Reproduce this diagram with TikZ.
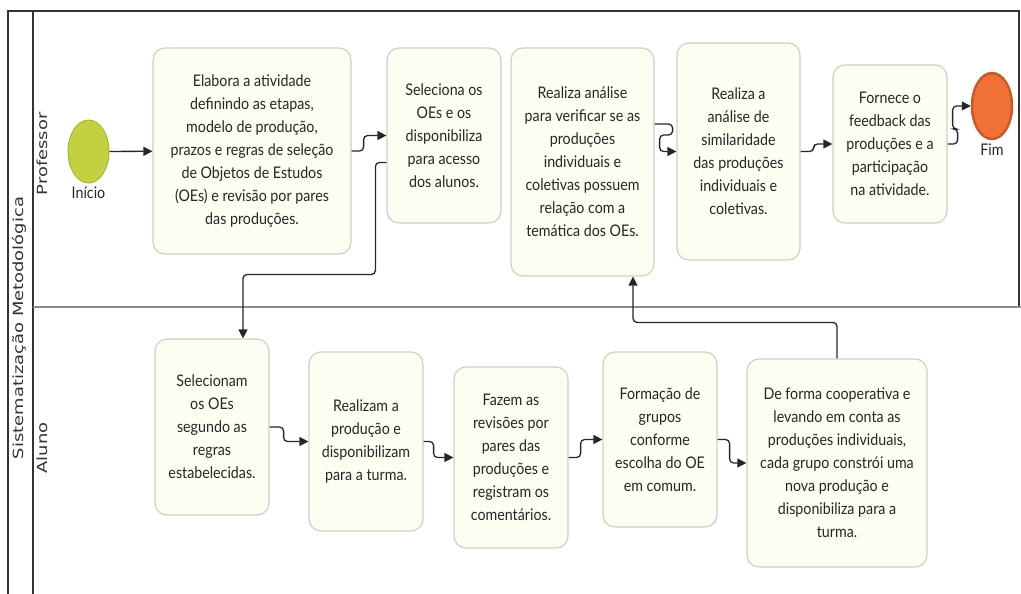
\documentclass[tikz,border=0pt]{standalone}
\usepackage{fontspec}
\usetikzlibrary{arrows.meta,shapes.geometric}
\newfontfamily\tarefafont{Lato}[FakeStretch=0.89]
\newfontfamily\raiafont{DejaVu Sans}[FakeStretch=1.28]
\definecolor{creme}{HTML}{FDFDF1}
\definecolor{bordacreme}{HTML}{CFCFC3}
\definecolor{verdeinicio}{HTML}{C3D140}
\definecolor{bordaverde}{HTML}{A8B83A}
\definecolor{laranjafim}{HTML}{F07236}
\definecolor{bordalaranja}{HTML}{C65A2A}
\begin{document}
\begin{tikzpicture}[x=1pt,y=-1pt,
  tarefa/.style 2 args={draw=bordacreme, fill=creme, rounded corners=12pt, line width=1.2pt,
    align=center, inner sep=0pt, text=black!85, minimum width=#1, minimum height=#2,
    font=\tarefafont\fontsize{16}{23}\selectfont},
  evento/.style={ellipse, inner sep=0pt, label distance=4pt},
  every label/.style={text=black!85, font=\tarefafont\fontsize{16}{23}\selectfont},
  fluxo/.style={draw=black!85, line width=1.3pt, rounded corners=4pt,
    -{Triangle[length=9pt,width=9pt]}},
  raia/.style={rotate=90, font=\raiafont\fontsize{14}{16}\selectfont, text=black!80}]
  \useasboundingbox (0,0) rectangle (1021,594);

  \draw[line width=1.2pt, black!80] (8,594) -- (8,11) -- (1019,11) -- (1019,307);
  \draw[line width=1.2pt, black!80] (33,11) -- (33,594);
  \draw[line width=1.2pt, black!45] (33,307) -- (1021,307);

  \node[raia] (pool) at (19,328) {Sistematização Metodológica};
  \node[raia] (professor) at (42,154) {Professor};
  \node[raia] (aluno) at (42,448) {Aluno};

  \node[evento, draw=bordaverde, fill=verdeinicio, line width=1pt, minimum width=41pt,
    minimum height=63pt, label={below:Início}] (inicio) at (88.5,151.5) {};
  \node[evento, draw=bordalaranja, fill=laranjafim, line width=2.5pt, minimum width=40pt,
    minimum height=66pt, label={below:Fim}] (fim) at (992,106) {};

  \node[tarefa={198pt}{206pt}] (elabora) at (252,151) {Elabora a atividade\\definindo as etapas,\\modelo de produção,\\prazos e regras de seleção\\de Objetos de Estudos\\(OEs) e revisão por pares\\das produções.};
  \node[tarefa={114pt}{175pt}] (seleciona) at (444,135.5) {Seleciona os\\OEs e os\\disponibiliza\\para acesso\\dos alunos.};
  \node[tarefa={143pt}{228pt}] (analise) at (582.5,162) {Realiza análise\\para verificar se as\\produções\\individuais e\\coletivas possuem\\relação com a\\temática dos OEs.};
  \node[tarefa={123pt}{217pt}] (similar) at (738.5,151.5) {Realiza a\\análise de\\similaridade\\das produções\\individuais e\\coletivas.};
  \node[tarefa={114pt}{158pt}] (feedback) at (890,144) {Fornece o\\feedback das\\produções e a\\participação\\na atividade.};

  \node[tarefa={114pt}{176pt}] (selecionam) at (212,427) {Selecionam\\os OEs\\segundo as\\regras\\estabelecidas.};
  \node[tarefa={114pt}{179pt}] (producao) at (366,441.5) {Realizam a\\produção e\\disponibilizam\\para a turma.};
  \node[tarefa={114pt}{181pt}] (revisoes) at (511,457.5) {Fazem as\\revisões por\\pares das\\produções e\\registram os\\comentários.};
  \node[tarefa={114pt}{175pt}] (grupos) at (660,439.5) {Formação de\\grupos\\conforme\\escolha do OE\\em comum.};
  \node[tarefa={180pt}{208pt}] (coopera) at (837,463) {De forma cooperativa e\\levando em conta as\\produções individuais,\\cada grupo constrói uma\\nova produção e\\disponibiliza para a\\turma.};

  \draw[fluxo] (inicio) -- (elabora);
  \draw[fluxo] (elabora.east) -- ++(12,0) |- (seleciona.west);
  \draw[fluxo] ([yshift=-27pt]seleciona.west) -- ++(-11,0) -- ++(0,112) -| ([xshift=31pt]selecionam.north);
  \draw[fluxo] ([yshift=38pt]analise.east) -- ++(18,0) -- ++(0,11) -- ++(-13,0) |- (similar.west);
  \draw[fluxo] (similar.east) -- ++(13,0) |- (feedback.west);
  \draw[fluxo] (feedback.east) -- ++(10,0) -- ++(0,-15) -- ++(-5,0) |- (fim.west);
  \draw[fluxo] (selecionam.east) -- ++(14,0) |- (producao.west);
  \draw[fluxo] (producao.east) -- ++(10,0) |- (revisoes.west);
  \draw[fluxo] (revisoes.east) -- ++(12,0) |- (grupos.west);
  \draw[fluxo] (grupos.east) -- ++(12,0) |- (coopera.west);
  \draw[fluxo] (coopera.north) -- ++(0,-36) -| ([xshift=50.5pt]analise.south);
\end{tikzpicture}
\end{document}
